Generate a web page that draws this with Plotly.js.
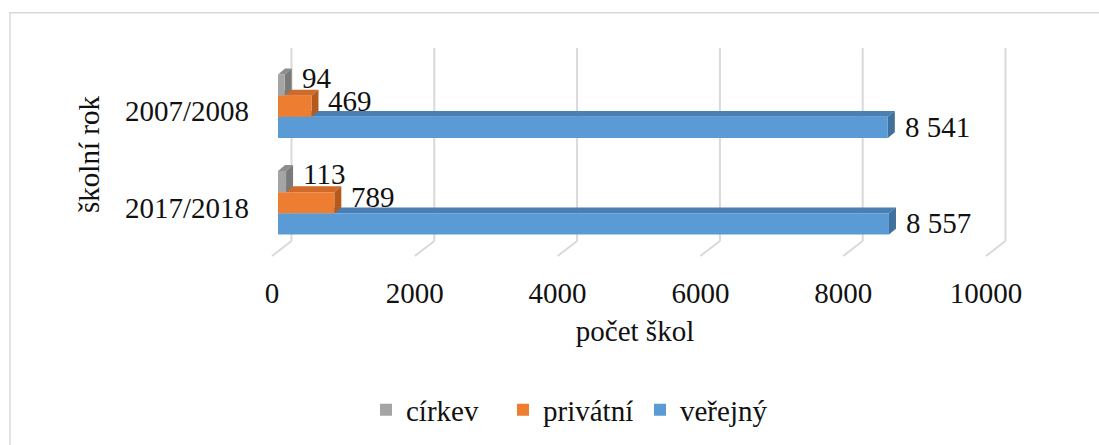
<!DOCTYPE html>
<html>
<head>
<meta charset="utf-8">
<script src="https://cdn.plot.ly/plotly-3.0.1.min.js"></script>
<style>html,body{margin:0;padding:0;background:#fff;}#chart{width:1099px;height:445px;}</style>
</head>
<body>
<div id="chart"></div>
<script>
// ---- data ----
const categories = ['2017/2018', '2007/2008'];
const cirkev = [113, 94];
const privatni = [789, 469];
const verejny = [8557, 8541];
const xTicks = [0, 2000, 4000, 6000, 8000, 10000];
const xTickLabels = ['0', '2000', '4000', '6000', '8000', '10000'];
const xTitle = 'počet škol';
const yTitle = 'školní rok';

// ---- layout constants ----
const W = 1099, H = 445, ML = 278, MR = 107, MT = 58, MB = 193;
const plotW = W - ML - MR, plotH = H - MT - MB;
const xMax = 10000;
const pxPerX = plotW / xMax, pxPerCat = plotH / 2;
const dxD = 7 / pxPerX, dyD = 6 / pxPerCat;
const bargap = 0.34, groupW = 1 - bargap;
const FONT = 'Liberation Serif, Times New Roman, serif';
const FS = 29;

const series = [
  {name: 'veřejný', vals: verejny, color: '#5b9bd5', top: '#4a7fb3', side: '#41709c', lshift: 0.5},
  {name: 'privátní', vals: privatni, color: '#ed7d31', top: '#cf6a28', side: '#b55a1d', lshift: 5.5},
  {name: 'církev', vals: cirkev, color: '#a5a5a5', top: '#8e8e8e', side: '#7a7a7a', lshift: 7.5}
];
const nS = series.length, barW = groupW / nS;
const yPos = categories.map((c, i) => i);

function fmt(v) { return String(v).replace(/\B(?=(\d{3})+(?!\d))/g, ' '); }
function pxX(px) { return (px - ML) / plotW; }
function pxY(py) { return (H - MB - py) / plotH; }

const traces = series.map(s => ({
  type: 'bar', orientation: 'h', name: s.name,
  x: s.vals, y: yPos,
  marker: {color: s.color, line: {width: 0}},
  hoverinfo: 'x+name'
}));

const shapes = [];
// outer border
shapes.push({type: 'rect', xref: 'paper', yref: 'paper', x0: pxX(10), x1: pxX(1200), y0: pxY(600), y1: pxY(12.5),
  line: {color: '#d9d9d9', width: 1.5}, fillcolor: 'rgba(0,0,0,0)', layer: 'below'});
// back wall & floor gridlines
xTicks.forEach(t => {
  const xb = t / xMax + 13.5 / plotW, xf = t / xMax - 6 / plotW;
  shapes.push({type: 'line', xref: 'paper', yref: 'paper', x0: xb, x1: xb, y0: pxY(48), y1: pxY(242),
    line: {color: '#d9d9d9', width: 2}, layer: 'below'});
  shapes.push({type: 'line', xref: 'paper', yref: 'paper', x0: xb, x1: xf, y0: pxY(242), y1: pxY(257),
    line: {color: '#d9d9d9', width: 2}, layer: 'below'});
});
// 3D faces + value labels
const annotations = [];
series.forEach((s, i) => {
  s.vals.forEach((v, j) => {
    const yb = yPos[j] - groupW / 2 + i * barW, yt = yb + barW;
    shapes.push({type: 'path', xref: 'x', yref: 'y', layer: 'between',
      path: `M 0,${yt} L ${v},${yt} L ${v + dxD},${yt + dyD} L ${dxD},${yt + dyD} Z`,
      fillcolor: s.top, line: {width: 0}});
    shapes.push({type: 'path', xref: 'x', yref: 'y', layer: 'between',
      path: `M ${v},${yb} L ${v},${yt} L ${v + dxD},${yt + dyD} L ${v + dxD},${yb + dyD} Z`,
      fillcolor: s.side, line: {width: 0}});
    annotations.push({x: v, y: yb + barW / 2, xref: 'x', yref: 'y', text: fmt(v), showarrow: false,
      xanchor: 'left', yanchor: 'middle', xshift: 15, yshift: s.lshift,
      font: {family: FONT, size: FS, color: '#111'}});
  });
});

const layout = {
  width: W, height: H,
  margin: {l: ML, r: MR, t: MT, b: MB, pad: 0},
  paper_bgcolor: '#fff', plot_bgcolor: 'rgba(0,0,0,0)',
  font: {family: FONT, size: FS, color: '#111'},
  barmode: 'group', bargap: bargap, bargroupgap: 0,
  showlegend: true,
  legend: {orientation: 'h', traceorder: 'reversed', x: pxX(366), xanchor: 'left', y: pxY(410), yanchor: 'middle',
    entrywidth: 92, entrywidthmode: 'pixels',
    font: {family: FONT, size: FS, color: '#111'}, bgcolor: 'rgba(0,0,0,0)'},
  xaxis: {range: [0, xMax], tickvals: xTicks, ticktext: xTickLabels, showgrid: false, zeroline: false, showline: false, ticks: '',
    ticklabelshift: -6, ticklabelstandoff: 22, fixedrange: true,
    title: {text: xTitle, standoff: 12, font: {family: FONT, size: FS, color: '#111'}}},
  yaxis: {range: [-0.5, 1.5], tickvals: yPos, ticktext: categories, showgrid: false, zeroline: false, showline: false,
    ticks: '', ticklabelshift: 5, ticklabelstandoff: 28, fixedrange: true,
    title: {text: yTitle, standoff: 16, font: {family: FONT, size: FS, color: '#111'}}},
  shapes: shapes, annotations: annotations
};

Plotly.newPlot('chart', traces, layout, {displayModeBar: false, staticPlot: true});
</script>
</body>
</html>
